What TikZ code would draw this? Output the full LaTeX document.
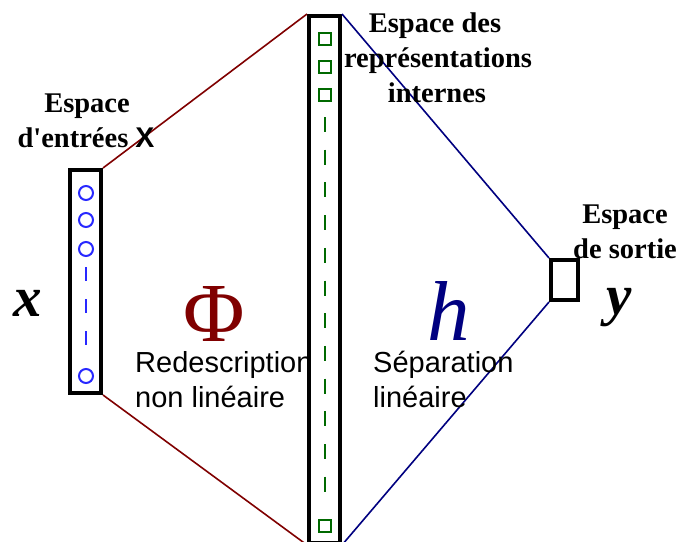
\documentclass[tikz,border=0pt]{standalone}
\usepackage{fontspec}
\setmainfont{Liberation Serif}[Ligatures=TeXOff]
\setsansfont{Liberation Sans}[Ligatures=TeXOff]
\definecolor{dred}{RGB}{128,0,0}
\definecolor{dnavy}{RGB}{0,0,128}
\definecolor{dgreen}{RGB}{0,105,0}
\definecolor{cblue}{RGB}{40,40,255}
\begin{document}
\begin{tikzpicture}[x=1pt,y=-1pt,
  bar/.style={draw=black,line width=4pt,inner sep=0pt,rectangle},
  cell/.style={draw=cblue,line width=2pt,circle,minimum size=14pt,inner sep=0pt},
  sq/.style={draw=dgreen,line width=2pt,rectangle,minimum size=12.5pt,inner sep=0pt},
  ldash/.style={draw=cblue,line width=2pt},
  gdash/.style={draw=dgreen,line width=2pt},
  redline/.style={draw=dred,line width=1.6pt},
  blueline/.style={draw=dnavy,line width=1.6pt},
  lbl/.style={font=\fontsize{28.5}{35}\selectfont\bfseries,anchor=base,inner sep=0pt},
  txt/.style={font=\sffamily\fontsize{29}{35}\selectfont,anchor=base west,inner sep=0pt},
  var/.style={font=\fontsize{57}{60}\selectfont\bfseries\itshape,anchor=base,inner sep=0pt}
]
\clip (0,0) rectangle (680,541);
\fill[white] (0,0) rectangle (680,541);

% bars
\node[bar,minimum width=31pt,minimum height=223pt] (inbar) at (85.5,281.5) {};
\node[bar,minimum width=31pt,minimum height=527pt] (midbar) at (324.5,279.5) {};
\node[bar,minimum width=27pt,minimum height=40pt] (outbox) at (564.5,280) {};

% connectors
\draw[redline] (inbar.north east) -- (midbar.north west);
\draw[redline] (inbar.south east) -- (midbar.south west);
\draw[blueline] (midbar.north east) -- (outbox.north west);
\draw[blueline] (midbar.south east) -- (outbox.south west);

% input cells
\node[cell] (c1) at (86,193) {};
\node[cell] (c2) at (86,220) {};
\node[cell] (c3) at (86,249) {};
\node[cell] (c4) at (86,376) {};
\draw[ldash] (86,267) -- (86,281);
\draw[ldash] (86,299) -- (86,313);
\draw[ldash] (86,331) -- (86,345);

% hidden cells
\node[sq] (s1) at (325,39) {};
\node[sq] (s2) at (325,67) {};
\node[sq] (s3) at (325,95) {};
\node[sq] (s4) at (325,526) {};
\foreach \k in {0,...,11} {
  \draw[gdash] (325,117+32.7*\k) -- (325,132+32.7*\k);
}

% labels
\node[lbl] (in1) at (87,112) {Espace};
\node[lbl] (in2) at (86,147) {d'entrées \textsf{X}};
\node[lbl] (mid1) at (435,32) {Espace des};
\node[lbl] (mid2) at (438,67) {représentations};
\node[lbl] (mid3) at (437,102) {internes};
\node[lbl] (out1) at (625,223) {Espace};
\node[lbl] (out2) at (625,258) {de sortie};

\node[txt] (r1) at (135,372) {Redescription};
\node[txt] (r2) at (135,407) {non linéaire};
\node[txt] (p1) at (373,372) {Séparation};
\node[txt] (p2) at (373,407) {linéaire};

\node[var] (vx) at (28,316) {x};
\node[var] (vy) at (619,314) {y};
\node[font=\fontsize{84}{90}\selectfont,text=dred,anchor=base,inner sep=0pt] (phi) at (214,341) {Φ};
\node[font=\fontsize{85}{90}\selectfont\itshape,text=dnavy,anchor=base,inner sep=0pt] (hh) at (449,340) {h};
\end{tikzpicture}
\end{document}
